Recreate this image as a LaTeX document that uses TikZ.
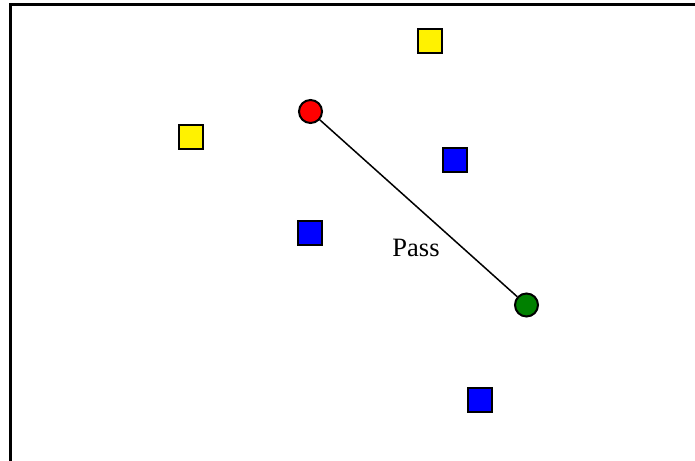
\documentclass[tikz,border=0pt]{standalone}
\usepackage{fontspec}
\setmainfont{Liberation Serif}
\begin{document}
\begin{tikzpicture}[x=1pt,y=-1pt,
  box/.style={draw=black,line width=2pt,minimum size=24pt,inner sep=0pt,outer sep=0pt},
  player/.style={circle,draw=black,line width=2pt,minimum size=23pt,inner sep=0pt},
  label/.style={font=\fontsize{26.5}{31}\selectfont,anchor=base}]
\useasboundingbox (0,0) rectangle (695,460);
% pitch frame (top and left edges)
\draw[line width=2.2pt] (10.5,462) -- (10.5,4.5) -- (697,4.5);
% opponents
\node[box,fill=yellow] (y1) at (190.5,136.5) {};
\node[box,fill=yellow] (y2) at (430,41.5) {};
% teammates
\node[box,fill=blue] (b1) at (455,160) {};
\node[box,fill=blue] (b2) at (310,233) {};
\node[box,fill=blue] (b3) at (480,400) {};
% passer and receiver
\node[player,fill=red] (from) at (310.5,111.5) {};
\node[player,fill=green!50!black] (to) at (526.5,305) {};
\draw[line width=1.5pt] (from) -- (to);
\node[label] (pass) at (416,256) {Pass};
\end{tikzpicture}
\end{document}
